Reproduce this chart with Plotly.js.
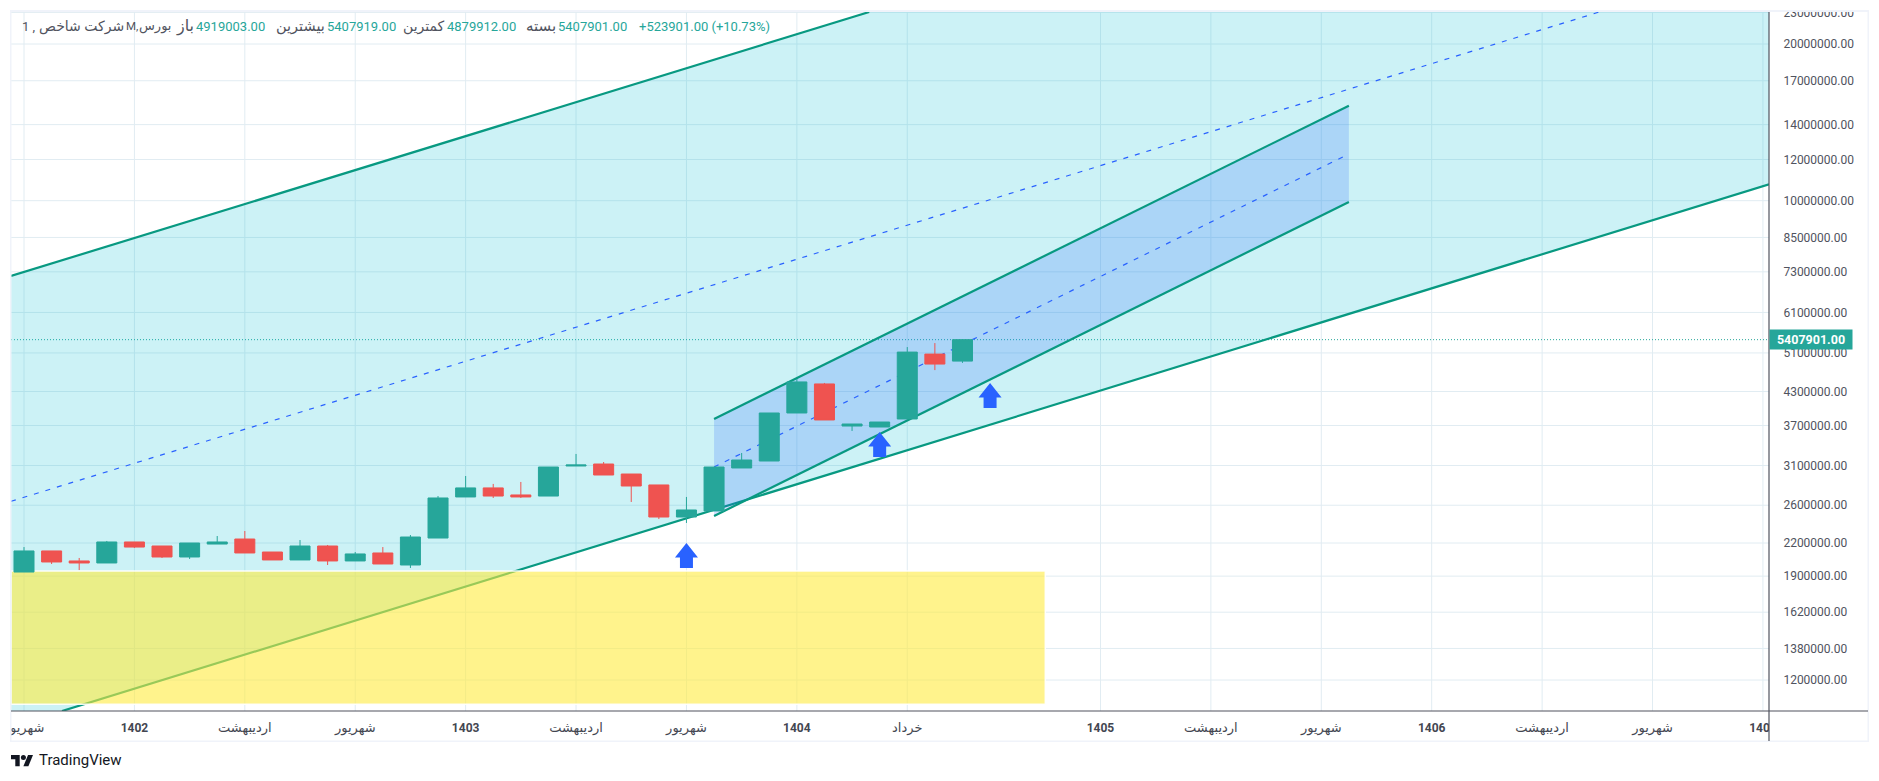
<!DOCTYPE html>
<html>
<head>
<meta charset="utf-8">
<script src="https://cdn.plot.ly/plotly-3.0.1.min.js"></script>
<style>html,body{margin:0;padding:0;background:#fff;overflow:hidden}#c{width:1879px;height:781px}</style>
</head>
<body>
<div id="c"></div>
<script>
// ---- candles (monthly) ----
const candleIndex = Array.from({length: 35}, (_, i) => i);
const opens  = [1935000,2124000,2032000,2014000,2210000,2171000,2068000,2190000,2239000,2114000,2041000,2171000,2032000,2105000,1996000,2249000,2697000,2807000,2721000,2708000,3093000,3120000,2985000,2844000,2468000,2535000,3066000,3162000,3910000,4446000,3691000,3675000,3808000,5074000,4919003];
const highs  = [2161000,2124000,2059000,2220000,2210000,2171000,2200000,2269000,2320000,2114000,2229000,2181000,2114000,2161000,2279000,2708000,2959000,2857000,2882000,3079000,3262000,3148000,2985000,2844000,2697000,3079000,3276000,3910000,4545000,4466000,3724000,3757000,5234000,5327000,5407919];
const lows   = [1935000,2005000,1952000,2014000,2152000,2059000,2050000,2190000,2105000,2041000,2041000,1996000,2032000,2005000,1970000,2249000,2697000,2685000,2685000,2708000,3093000,2972000,2638000,2446000,2404000,2535000,3066000,3162000,3910000,3791000,3611000,3675000,3808000,4727000,4879912];
const closes = [2124000,2023000,2014000,2210000,2161000,2068000,2200000,2210000,2105000,2041000,2171000,2032000,2096000,2005000,2259000,2685000,2807000,2708000,2697000,3079000,3106000,2972000,2831000,2468000,2546000,3079000,3176000,3910000,4486000,3791000,3724000,3757000,5119000,4855000,5407901];

// ---- axes ----
const xRange = [-0.471, 63.22];
const yLogRange = [6.0197, 7.3625];
const yTicks = [1200000,1380000,1620000,1900000,2200000,2600000,3100000,3700000,4300000,5100000,6100000,7300000,8500000,10000000,12000000,14000000,17000000,20000000,23000000];
const xTicks = [0,4,8,12,16,20,24,28,32,39,43,47,51,55,59,63];
const yr = s => '<span style="font-size:12px"><b>'+s+'</b></span>';
const xLabels = ['شهریور',yr('1402'),'اردیبهشت','شهریور',yr('1403'),'اردیبهشت','شهریور',yr('1404'),'خرداد',yr('1405'),'اردیبهشت','شهریور',yr('1406'),'اردیبهشت','شهریور',yr('1407')];

// ---- drawings: [index, value] pairs ----
const bigUpper = [[-0.471,7168000],[30.62,23040000]];
const bigMiddle = [[-0.471,2645700],[57.07,23040000]];
const bigLower = [[1.377,1046300],[63.22,10753000]];
const bigCorner = [[63.22,23040000]];
const bigLeftBottom = [[-0.471,1046300]];
const smallUpper = [[25,3807500],[48,15224000]];
const smallMiddle = [[25,3079200],[48,12296000]];
const smallLower = [[25,2479100],[48,9943000]];
const zone = {x0:-0.471, x1:37, top:1943700, bottom:1078500};
const arrowX = [24,31,35];
const arrowTip = [2200000,3594000,4466000];

// ---- legend ----
const headerDark = [['1 ,',21,'left',13],['شرکت شاخص',125,'right',14],['M,',125,'left',11.5],['بورس',171.5,'right',13],['باز',195,'right',16],['بیشترین',325.5,'right',14.5],['کمترین',446.4,'right',14],['بسته',557,'right',15]];
const headerTeal = [['4919003.00',195],['5407919.00',325.5],['4879912.00',446.4],['5407901.00',557],['+523901.00 (+10.73%)',638]];

const TEAL='#26a69a', RED='#ef5350', LINE='#089981', BLUE='#2962ff', GRID='#e1ecf2', AXIS='#50535e';
const L=11,R=1769,T=12,B=711;
const pX=x=>(x-L)/(R-L), pY=y=>(B-y)/(B-T);
const FONT='Roboto, "DejaVu Sans", sans-serif';

const shapes=[];
// grid
yTicks.forEach(v=>shapes.push({type:'line',layer:'below',xref:'paper',yref:'y',x0:0,x1:1,y0:v,y1:v,line:{color:GRID,width:1}}));
xTicks.forEach(v=>shapes.push({type:'line',layer:'below',xref:'x',yref:'paper',x0:v,x1:v,y0:0,y1:1,line:{color:GRID,width:1}}));
const path=pts=>'M'+pts.map(p=>p[0]+','+p[1]).join(' L')+' Z';
const seg=(pts,color,width,dash)=>shapes.push({type:'line',layer:'below',xref:'x',yref:'y',x0:pts[0][0],y0:pts[0][1],x1:pts[1][0],y1:pts[1][1],line:{color,width,dash:dash||'solid'}});
const poly=(pts,color)=>shapes.push({type:'path',layer:'below',xref:'x',yref:'y',path:path(pts),fillcolor:color,line:{width:0}});
poly([...bigUpper,...bigCorner,bigLower[1],bigLower[0],...bigLeftBottom],'rgba(0,188,212,0.2)');
seg(bigUpper,LINE,2.2); seg(bigLower,LINE,2.2); seg(bigMiddle,BLUE,1.2,'5px,7px');
poly([smallUpper[0],smallUpper[1],smallLower[1],smallLower[0]],'rgba(41,98,255,0.2)');
seg(smallUpper,LINE,2.2); seg(smallLower,LINE,2.2); seg(smallMiddle,BLUE,1.2,'5px,7px');
shapes.push({type:'rect',layer:'below',xref:'x',yref:'y',x0:zone.x0,x1:zone.x1,y0:zone.bottom,y1:zone.top,fillcolor:'rgba(255,235,59,0.59)',line:{color:'rgba(255,255,255,0.9)',width:1.5}});
// last price line
const last=closes[closes.length-1];
shapes.push({type:'line',layer:'below',xref:'paper',yref:'y',x0:0,x1:1,y0:last,y1:last,line:{color:TEAL,width:1,dash:'1px,2px'}});
// arrows
arrowX.forEach((x,i)=>shapes.push({type:'path',layer:'above',xref:'x',yref:'y',xsizemode:'pixel',ysizemode:'pixel',xanchor:x,yanchor:arrowTip[i],path:'M0,0 L11.5,-14.5 L6.5,-14.5 L6.5,-25 L-6.5,-25 L-6.5,-14.5 L-11.5,-14.5 Z',fillcolor:BLUE,line:{width:0}}));
// frame
const pxRect=(x0,y0,x1,y1,color)=>shapes.push({type:'rect',layer:'above',xref:'paper',yref:'paper',x0:pX(x0),x1:pX(x1),y0:pY(y1),y1:pY(y0),fillcolor:color,line:{width:0}});
const pxLine=(x0,y0,x1,y1,color,w)=>shapes.push({type:'line',layer:'above',xref:'paper',yref:'paper',x0:pX(x0),x1:pX(x1),y0:pY(y0),y1:pY(y1),line:{color,width:w}});
pxRect(0,0,1879,10,'#ffffff');
pxRect(0,711,11,741,'#ffffff');
pxRect(R,711,1868,741,'#ffffff');
pxRect(10,10,1869,12,'#f0f3fa');
pxRect(10,10,11.5,742,'#f0f3fa');
pxRect(1867.5,10,1869,742,'#f0f3fa');
pxRect(10,740.5,1869,742,'#f0f3fa');
pxLine(L,B,1868,B,AXIS,1.2);
pxLine(R,12,R,741,AXIS,1.2);
// logo
const logoPts=[[[19.7,766.2],[15.3,766.2],[15.3,759.3],[11,759.3],[11,755],[19.7,755]],[[28.4,766.2],[23.4,766.2],[28.05,755],[33,755]]];
logoPts.forEach(p=>shapes.push({type:'path',layer:'above',xref:'paper',yref:'paper',path:path(p.map(q=>[pX(q[0]),pY(q[1])])),fillcolor:'#131722',line:{width:0}}));
shapes.push({type:'circle',layer:'above',xref:'paper',yref:'paper',x0:pX(20.9),x1:pX(25.9),y0:pY(760),y1:pY(755),fillcolor:'#131722',line:{width:0}});

const anns=[];
const note=(text,x,anchor,color,size)=>anns.push({text,xref:'paper',yref:'paper',x:pX(x),y:pY(26),xanchor:anchor,yanchor:'middle',showarrow:false,borderpad:0,font:{family:FONT,size:size||13,color}});
headerDark.forEach(h=>note(h[0],h[1],h[2],'#50535e',h[3]));
headerTeal.forEach(h=>note(h[0],h[1],'left',TEAL,13));
anns.push({text:'<b>5407901.00</b>',xref:'paper',yref:'y',x:pX(R),y:Math.log10(last),xanchor:'left',yanchor:'middle',showarrow:false,bgcolor:TEAL,width:82,height:19,borderpad:0,align:'center',font:{family:FONT,size:12.5,color:'#ffffff'}});
anns.push({text:'TradingView',xref:'paper',yref:'paper',x:pX(38),y:pY(760),xanchor:'left',yanchor:'middle',showarrow:false,borderpad:0,font:{family:FONT,size:15,color:'#131722'}});

Plotly.newPlot('c',[{
  type:'candlestick',x:candleIndex,open:opens,high:highs,low:lows,close:closes,
  whiskerwidth:0,hoverinfo:'skip',
  increasing:{line:{color:TEAL,width:1},fillcolor:TEAL},
  decreasing:{line:{color:RED,width:1},fillcolor:RED}
}],{
  width:1879,height:781,margin:{l:L,r:1879-R,t:T,b:781-B,pad:0},
  paper_bgcolor:'#ffffff',plot_bgcolor:'#ffffff',showlegend:false,boxgap:0.275,boxgroupgap:0,
  xaxis:{type:'linear',range:xRange,tickmode:'array',tickvals:xTicks,ticktext:xLabels,showgrid:false,zeroline:false,showline:false,
    rangeslider:{visible:false},ticks:'outside',ticklen:4,tickcolor:'rgba(0,0,0,0)',tickfont:{family:FONT,size:13,color:'#434651'},fixedrange:true},
  yaxis:{type:'log',side:'right',range:yLogRange,tickmode:'array',tickvals:yTicks,ticktext:yTicks.map(v=>v+'.00'),showgrid:false,zeroline:false,showline:false,
    ticks:'outside',ticklen:11,tickcolor:'rgba(0,0,0,0)',tickfont:{family:FONT,size:12,color:'#50535e'},fixedrange:true},
  shapes,annotations:anns,dragmode:false,hovermode:false
},{displayModeBar:false,staticPlot:true});
</script>
</body>
</html>
